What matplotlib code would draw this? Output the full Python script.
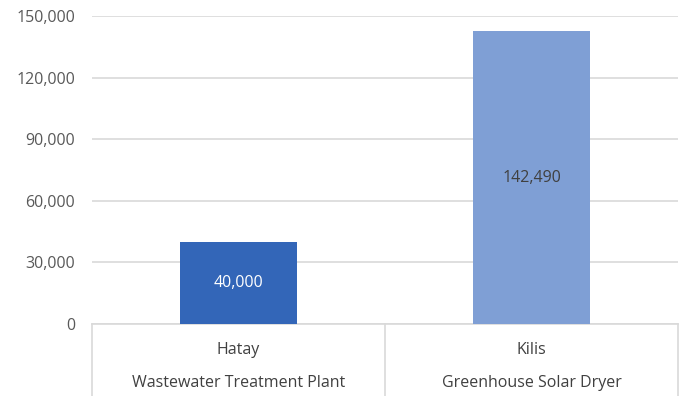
import matplotlib
matplotlib.use("Agg")
import matplotlib.pyplot as plt
from matplotlib.transforms import blended_transform_factory
from matplotlib.lines import Line2D

regions = ["Hatay", "Kilis"]
facilities = ["Wastewater Treatment Plant", "Greenhouse Solar Dryer"]
values = [40000, 142490]
yticks = [0, 30000, 60000, 90000, 120000, 150000]

plt.rcParams['font.family'] = ['Open Sans', 'DejaVu Sans']

W, H = 683, 396
fig = plt.figure(figsize=(W/100, H/100), dpi=100)
L, R, T, B = 92, 678, 16, 324
ax = fig.add_axes([L/W, (H-B)/H, (R-L)/W, (B-T)/H])

FS = 11.5
colors = ["#3366b8", "#7f9fd5"]
label_colors = ["white", "#404040"]
x = list(range(len(values)))
ax.bar(x, values, width=0.4, color=colors, zorder=3)
for xi, v, lc in zip(x, values, label_colors):
    ax.text(xi, v/2, f"{v:,}", ha="center", va="center", color=lc, fontsize=FS, zorder=4)

ax.set_xlim(-0.5, len(values)-0.5)
ax.set_ylim(0, 150000)
ax.set_yticks(yticks)
ax.set_yticklabels([f"{t:,}" for t in yticks], color="#595959", fontsize=FS)
ax.tick_params(axis="y", length=0, pad=12)
ax.set_xticks([])
for s in ax.spines.values():
    s.set_visible(False)
ax.yaxis.grid(True, color="#d9d9d9", linewidth=1.2, zorder=0)
ax.set_axisbelow(True)

tr = blended_transform_factory(ax.transData, fig.transFigure)
y0 = (H-B)/H
ax.add_line(Line2D([-0.5, len(values)-0.5], [y0, y0], transform=tr, color="#d9d9d9", linewidth=1.2, clip_on=False))
for xb in [-0.5 + i for i in range(len(values)+1)]:
    ax.add_line(Line2D([xb, xb], [y0, 0], transform=tr, color="#d9d9d9", linewidth=1.2, clip_on=False))
for xi, reg, fac in zip(x, regions, facilities):
    ax.text(xi, (H-350)/H, reg, transform=tr, ha="center", va="center", color="#404040", fontsize=FS)
    ax.text(xi, (H-383)/H, fac, transform=tr, ha="center", va="center", color="#404040", fontsize=FS)

fig.savefig("out.png", dpi=100)
